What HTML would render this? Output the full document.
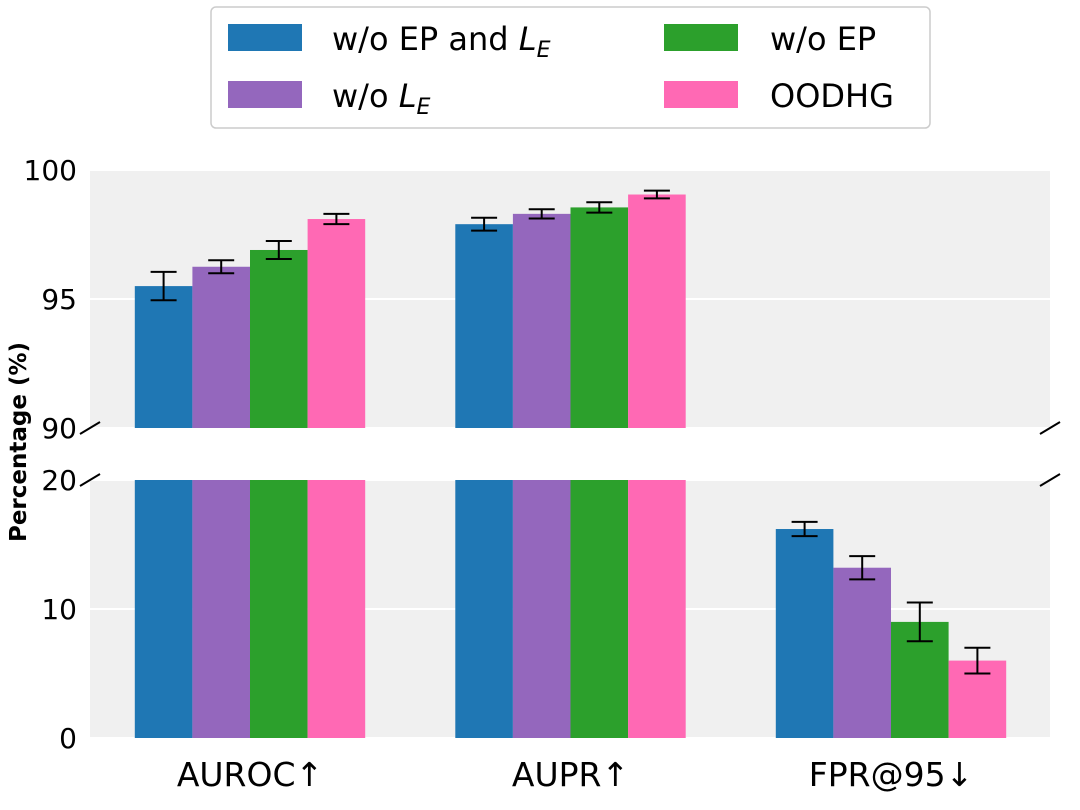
<!DOCTYPE html>
<html><head><meta charset="utf-8"><style>
html,body{margin:0;background:#fff;overflow:hidden;width:1080px;height:810px;}
svg{display:block;}
svg text{font-family:"DejaVu Sans","Liberation Sans",sans-serif;}
</style></head><body>
<svg id="chart" width="1080" height="810" xmlns="http://www.w3.org/2000/svg">
<defs>
<clipPath id="clipTop"><rect x="90" y="170" width="960" height="258"/></clipPath>
<clipPath id="clipBot"><rect x="90" y="480" width="960" height="258"/></clipPath>
</defs>
<rect x="90" y="170" width="960" height="258" fill="#f0f0f0"/>
<rect x="90" y="480" width="960" height="258" fill="#f0f0f0"/>
<g id="gTop" clip-path="url(#clipTop)"></g>
<g id="gBot" clip-path="url(#clipBot)"></g>
<g id="gAxes"></g>
<g stroke="#000" stroke-width="2">
<line x1="80" y1="434" x2="100" y2="422"/><line x1="1040" y1="434" x2="1060" y2="422"/>
<line x1="80" y1="486" x2="100" y2="474"/><line x1="1040" y1="486" x2="1060" y2="474"/>
</g>
<text x="26" y="442" transform="rotate(-90 26 442)" text-anchor="middle" font-size="23" font-weight="bold">Percentage (%)</text>
<g>
<rect x="211" y="7" width="719" height="121" rx="5" fill="#fff" stroke="#ccc" stroke-width="1.5"/>
<rect x="228" y="24" width="74" height="27" fill="#1f77b4"/>
<text x="332" y="50" font-size="32">w/o EP and <tspan font-style="italic">L</tspan><tspan font-style="italic" font-size="22" dy="7">E</tspan></text>
<rect x="228" y="81" width="74" height="27" fill="#9467bd"/>
<text x="332" y="107" font-size="32">w/o <tspan font-style="italic">L</tspan><tspan font-style="italic" font-size="22" dy="7">E</tspan></text>
<rect x="664" y="24" width="74" height="27" fill="#2ca02c"/>
<text x="770" y="50" font-size="32">w/o EP</text>
<rect x="664" y="81" width="74" height="27" fill="#ff69b4"/>
<text x="770" y="107" font-size="32">OODHG</text>
</g>
</svg>
<script>
const categories = ["AUROC↑", "AUPR↑", "FPR@95↓"];
const seriesNames = ["w/o EP and LE", "w/o LE", "w/o EP", "OODHG"];
const colors = ["#1f77b4", "#9467bd", "#2ca02c", "#ff69b4"];
const valsWoEpLe = [95.5, 97.9, 16.2];
const valsWoLe = [96.25, 98.3, 13.2];
const valsWoEp = [96.9, 98.55, 9.0];
const valsOodhg = [98.1, 99.05, 6.0];
const errWoEpLe = [0.55, 0.25, 0.55];
const errWoLe = [0.25, 0.18, 0.9];
const errWoEp = [0.35, 0.2, 1.5];
const errOodhg = [0.2, 0.15, 1.0];
const topTicks = [90, 95, 100];
const botTicks = [0, 10, 20];

const NS = "http://www.w3.org/2000/svg";
const series = [valsWoEpLe, valsWoLe, valsWoEp, valsOodhg];
const errs = [errWoEpLe, errWoLe, errWoEp, errOodhg];
const yTop = v => 428 - (v - 90) * 25.8;
const yBot = v => 738 - v * 12.9;
const xCenter = i => 250 + i * 320.5;
const barW = 57.6;
function mk(tag, attrs, parent){const e=document.createElementNS(NS,tag);for(const k in attrs)e.setAttribute(k,attrs[k]);parent.appendChild(e);return e;}
const gTop=document.getElementById('gTop'), gBot=document.getElementById('gBot'), gAx=document.getElementById('gAxes');
topTicks.forEach(t=>{const l=mk('line',{x1:90,x2:1050,y1:yTop(t),y2:yTop(t),stroke:'#fff','stroke-width':2},gTop);

});
botTicks.forEach(t=>{const l=mk('line',{x1:90,x2:1050,y1:yBot(t),y2:yBot(t),stroke:'#fff','stroke-width':2},gBot);

});
categories.forEach((c,i)=>{
  series.forEach((s,j)=>{
    const v=s[i], e=errs[j][i];
    const x0=xCenter(i)+(j-2)*barW;
    const xc=x0+barW/2;
    [[gTop,yTop,428],[gBot,yBot,738]].forEach(([g,fy,base])=>{
      const yv=fy(v);
      const r=mk('rect',{x:x0,y:Math.min(yv,base),width:barW,height:Math.max(0,base-yv),fill:colors[j]},g);
      
      
      const eg=mk('g',{stroke:'#000','stroke-width':2},g);
      
      
      mk('line',{x1:xc,x2:xc,y1:fy(v-e),y2:fy(v+e)},eg);
      mk('line',{x1:xc-13,x2:xc+13,y1:fy(v-e),y2:fy(v-e)},eg);
      mk('line',{x1:xc-13,x2:xc+13,y1:fy(v+e),y2:fy(v+e)},eg);
    });
  });
  const t=mk('text',{x:xCenter(i),y:786,'text-anchor':'middle','font-size':33},gAx);
  t.textContent=c;
  
  
});
topTicks.forEach(v=>{const t=mk('text',{x:77,y:yTop(v)+10,'text-anchor':'end','font-size':28},gAx);t.textContent=v;

});
botTicks.forEach(v=>{const t=mk('text',{x:77,y:yBot(v)+10,'text-anchor':'end','font-size':28},gAx);t.textContent=v;

});
</script>
</body></html>
